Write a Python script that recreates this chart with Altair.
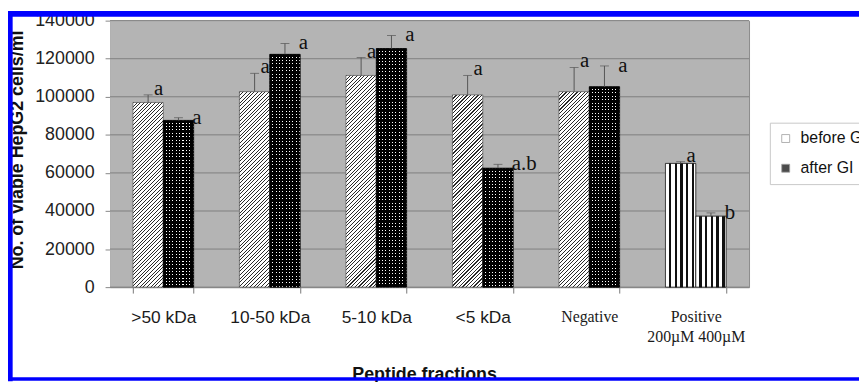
import math
import altair as alt
import pandas as pd

# ---------------- data ----------------
categories = [">50 kDa", "10-50 kDa", "5-10 kDa", "<5 kDa", "Negative", "Positive"]
series = ["before GI", "after GI"]
before_mean = [97000, 102700, 111200, 101000, 102700, 65000]
before_err = [4000, 9600, 9400, 10200, 12700, 900]
after_mean = [87600, 122300, 125300, 62500, 105300, 37300]
after_err = [1400, 5700, 6900, 2000, 10900, 1700]
before_sig = ["a", "a", "a", "a", "a", "a"]
after_sig = ["a", "a", "a", "a.b", "a", "b"]
y_ticks = [0, 20000, 40000, 60000, 80000, 100000, 120000, 140000]

rows = []
for i, c in enumerate(categories):
    rows.append(dict(id=2 * i, cat=c, series="before GI", value=before_mean[i],
                     top=before_mean[i] + before_err[i], sig=before_sig[i]))
    rows.append(dict(id=2 * i + 1, cat=c, series="after GI", value=after_mean[i],
                     top=after_mean[i] + after_err[i], sig=after_sig[i]))
df = pd.DataFrame(rows)
grid_df = pd.DataFrame({"t": y_ticks})

# ---------------- geometry / style ----------------
PLOT_W, PLOT_H = 645, 269
Y_MAX = y_ticks[-1]
PAD_IN, PAD_OUT = 0.43, 0.215
step = PLOT_W / (len(categories) - PAD_IN + 2 * PAD_OUT)
bar_w = step * (1 - PAD_IN) / 2


def stripe_stops(n, dark_frac, c_dark, c_light, dark_first=True):
    stops = []
    k = 0
    first, second = (c_dark, c_light) if dark_first else (c_light, c_dark)
    f1 = dark_frac if dark_first else 1 - dark_frac
    while k < n:
        a = k / n
        b = min((k + f1) / n, 1.0)
        c = min((k + 1) / n, 1.0)
        stops += [{"offset": a, "color": first}, {"offset": b, "color": first}]
        if b < 1.0:
            stops += [{"offset": b, "color": second}, {"offset": c, "color": second}]
        k += 1
    return stops


def grad(x2, y2, stops):
    return {"gradient": "linear", "x1": 0, "y1": 0, "x2": x2, "y2": y2, "stops": stops}


def diag_fill(h):
    w = bar_w
    k = (w + h) / (w * w + h * h)
    n = (w + h) / 3.7
    return grad(w * k, h * k, stripe_stops(n, 0.3, "#2a2a2a", "#ffffff"))


def hstripe_fill(h):
    return grad(0, 1, stripe_stops(h / 3.4, 0.7, "#000000", "#ffffff"))


def vmask_fill():
    return grad(1, 0, stripe_stops(bar_w / 3.4, 0.7, "#000000", "rgba(0,0,0,0)"))


def vstripe_fill():
    return grad(1, 0, stripe_stops(bar_w / 5.8, 0.4, "#111111", "#ffffff", dark_first=False))


X = alt.X(
    "cat:N", sort=categories,
    scale=alt.Scale(paddingInner=PAD_IN, paddingOuter=PAD_OUT),
    axis=alt.Axis(
        title="Peptide fractions", labelAngle=0, tickBand="extent", tickSize=6,
        tickColor="#777777", domainColor="#888888", grid=False,
        labelFont=alt.condition("datum.value == 'Negative' || datum.value == 'Positive'",
                                alt.value("Liberation Serif"), alt.value("Liberation Sans")),
        labelFontSize=alt.condition("datum.value == 'Negative' || datum.value == 'Positive'",
                                    alt.value(16), alt.value(17.5)),
        labelColor="#1a1a1a", labelPadding=16, labelBaseline="top",
        labelExpr="datum.value == 'Positive' ? ['Positive', '200\u00b5M 400\u00b5M'] : datum.label",
        labelLineHeight=20,
        titleFont="Liberation Sans", titleFontSize=18, titleFontWeight="bold",
        titleColor="#111111", titleX=317, titleY=93, titleAlign="center",
        titleBaseline="alphabetic",
    ),
)
XO = alt.XOffset("series:N", sort=series, scale=alt.Scale(paddingInner=0, paddingOuter=0))
Y = alt.Y(
    "value:Q", scale=alt.Scale(domain=[0, Y_MAX], nice=False),
    axis=alt.Axis(
        values=y_ticks, tickCount=len(y_ticks) + 2, format="d", labelOverlap=False,
        labelFont="Liberation Sans", labelFontSize=18, labelColor="#222222",
        labelPadding=11, tickSize=5, tickColor="#888888", domainColor="#888888",
        grid=False,
        title="No. of viable HepG2 cells/ml", titleFont="Liberation Sans",
        titleFontSize=18, titleFontWeight="bold", titleColor="#111111",
        titleAngle=270, titleX=-93, titleY=130, titleAlign="center",
        titleBaseline="middle",
    ),
)

base = alt.Chart(df)
frame = pd.DataFrame({"k": [0]})
fb = alt.Chart(frame)

layers = []
# grey plotting area
layers.append(fb.mark_rect(color="#b4b4b4").encode(
    x=alt.value(0), x2=alt.value(PLOT_W), y=alt.value(0), y2=alt.value(PLOT_H)))
# horizontal gridlines (behind the bars)
layers.append(alt.Chart(grid_df).mark_rule(color="#808080", strokeWidth=1)
              .encode(y=alt.Y("t:Q")))

for r in rows:
    h = r["value"] / Y_MAX * PLOT_H
    sel = base.transform_filter(alt.datum.id == r["id"])
    if r["cat"] == "Positive":
        layers.append(sel.mark_bar(fill=vstripe_fill(), stroke="#111111", strokeWidth=0.8)
                      .encode(x=X, xOffset=XO, y=Y))
    elif r["series"] == "before GI":
        layers.append(sel.mark_bar(fill=diag_fill(h), stroke="#555555", strokeWidth=0.7)
                      .encode(x=X, xOffset=XO, y=Y))
    else:
        layers.append(sel.mark_bar(fill=hstripe_fill(h), strokeWidth=0)
                      .encode(x=X, xOffset=XO, y=Y))
        layers.append(sel.mark_bar(fill=vmask_fill(), stroke="#000000", strokeWidth=0.8)
                      .encode(x=X, xOffset=XO, y=Y))

# error bars
layers.append(base.mark_rule(color="#555555", strokeWidth=1)
              .encode(x=X, xOffset=XO, y=Y, y2="top:Q"))
layers.append(base.mark_tick(color="#555555", size=9, thickness=1, orient="horizontal")
              .encode(x=X, xOffset=XO, y=alt.Y("top:Q")))

# significance letters
layers.append(base.transform_filter(alt.datum.series == "before GI")
              .mark_text(font="Liberation Serif", fontSize=21, align="left",
                         baseline="middle", dx=6, dy=-6, color="#111111")
              .encode(x=X, xOffset=XO, y=alt.Y("top:Q"), text="sig:N"))
layers.append(base.transform_filter(alt.datum.series == "after GI")
              .mark_text(font="Liberation Serif", fontSize=21, align="left",
                         baseline="middle", dx=14, dy=0, color="#111111")
              .encode(x=X, xOffset=XO, y=alt.Y("top:Q"), text="sig:N"))

# legend
layers.append(base.transform_filter("false").mark_square(size=64).encode(
    color=alt.Color("series:N", scale=alt.Scale(domain=series, range=["#ffffff", "#000000"]),
                    legend=alt.Legend(title=None, orient="none", legendX=666, legendY=103,
                                      symbolType="square", symbolSize=64,
                                      symbolStrokeColor="#777777", symbolStrokeWidth=0.8,
                                      labelFont="Liberation Sans", labelFontSize=16,
                                      labelColor="#111111", strokeColor="#c8c8c8",
                                      fillColor="#ffffff", padding=8, rowPadding=14,
                                      labelOffset=7))))

# blue frame of the figure
layers.append(fb.mark_rule(color="#0000ff", strokeWidth=5.7)
              .encode(x=alt.value(-103), x2=alt.value(760), y=alt.value(-6.85)))
layers.append(fb.mark_rule(color="#0000ff", strokeWidth=4.7)
              .encode(x=alt.value(-100.65), y=alt.value(-9.7), y2=alt.value(364)))
layers.append(fb.mark_rule(color="#0000ff", strokeWidth=3.6)
              .encode(x=alt.value(-103), x2=alt.value(760), y=alt.value(361.8)))

chart = alt.layer(*layers).properties(
    width=PLOT_W, height=PLOT_H,
    autosize=alt.AutoSizeParams(type="none"),
    padding={"left": 103, "top": 11, "right": 111, "bottom": 94},
    background="#ffffff",
).configure_view(stroke="#8a8a8a", strokeWidth=1)

chart.save("out.html", embed_options={"renderer": "svg", "actions": False})
